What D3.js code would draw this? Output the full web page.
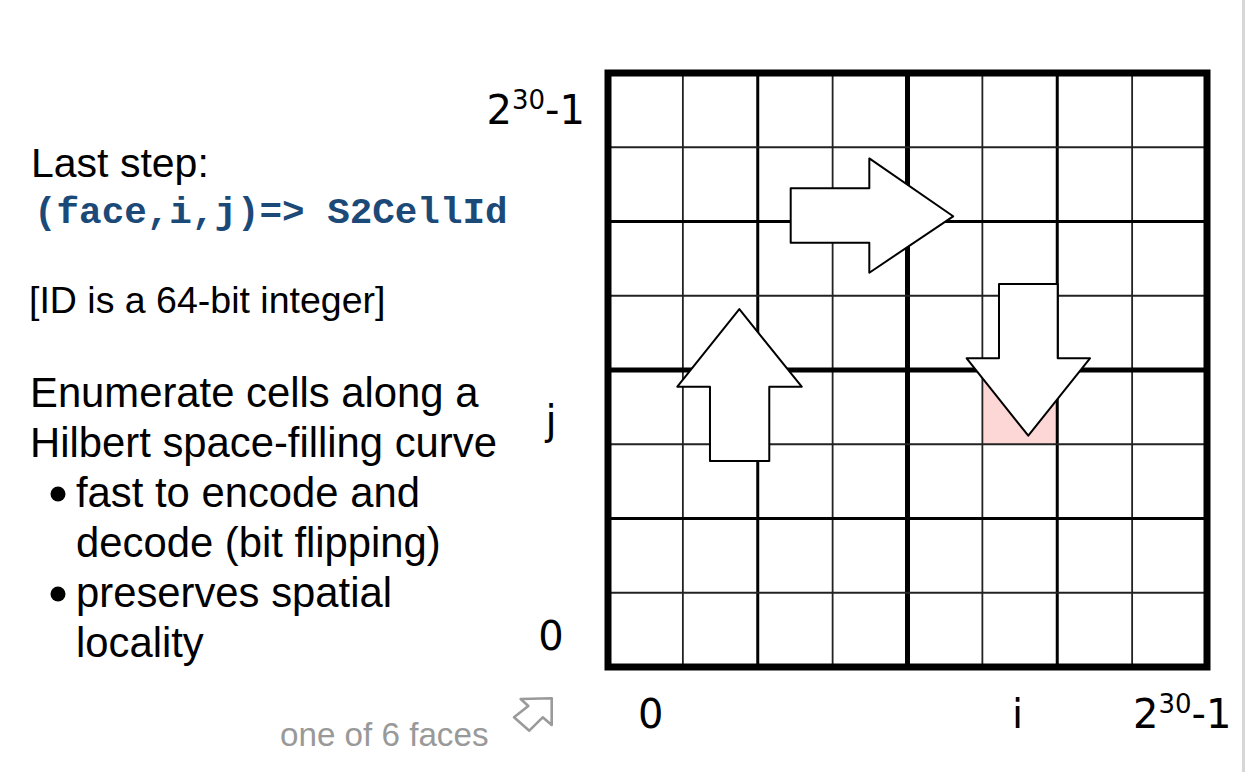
<!DOCTYPE html>
<html>
<head>
<meta charset="utf-8">
<script src="https://cdn.jsdelivr.net/npm/d3@7"></script>
<style>
  html, body { margin: 0; padding: 0; background: #fff; }
  svg { display: block; }
  .note { font-family: 'Liberation Sans', Arial, sans-serif; fill: #000; }
  .code { font-family: 'Liberation Mono', 'Courier New', monospace; font-weight: bold; fill: #1c4a78; }
  .tick { font-family: 'DejaVu Sans', Verdana, sans-serif; fill: #000; }
</style>
</head>
<body>
<svg id="chart" width="1252" height="772"></svg>
<script>
// 8x8 face grid, line index -> level (0 outer, 1 half, 2 quarter, 3 eighth)
const gridSize = 8
const lineLevels = [0, 3, 2, 3, 1, 3, 2, 3, 0]
const highlightCells = [[5, 3]]

// arrow outlines in grid units [i, j]
const arrowRight = [[2.44, 6.447], [3.49, 6.447], [3.49, 6.85], [4.61, 6.07], [3.49, 5.31], [3.49, 5.715], [2.44, 5.715]]
const arrowUp = [[1.362, 2.774], [1.362, 3.775], [0.926, 3.775], [1.754, 4.82], [2.587, 3.775], [2.154, 3.775], [2.154, 2.774]]
const arrowDown = [[5.222, 5.158], [5.222, 4.158], [4.79, 4.158], [5.613, 3.115], [6.437, 4.158], [6.006, 4.158], [6.006, 5.158]]

// axis labels: base text, superscript, tail, position in grid units
const xTicks = [
  { base: '0', sup: '', tail: '', at: 0.57 },
  { base: 'i', sup: '', tail: '', at: 5.47 },
  { base: '2', sup: '30', tail: '-1', at: 7.67 },
]
const yTicks = [
  { base: '0', sup: '', tail: '', at: 0.42 },
  { base: 'j', sup: '', tail: '', at: 3.33 },
  { base: '2', sup: '30', tail: '-1', at: 7.5 },
]

const titleLine = 'Last step:'
const codeLine = '(face,i,j)=> S2CellId'
const idLine = '[ID is a 64-bit integer]'
const curveLines = ['Enumerate cells along a', 'Hilbert space-filling curve']
const bulletItems = [['fast to encode and', 'decode (bit flipping)'], ['preserves spatial', 'locality']]
const caption = 'one of 6 faces'

const svg = d3.select('#chart')

const x = d3.scaleLinear().domain([0, gridSize]).range([608, 1207])
const y = d3.scaleLinear().domain([0, gridSize]).range([667, 73])

const levelWidth = [7, 5, 3, 1.8]
const levelColor = ['#000', '#000', '#000', '#222']

// right edge rule
svg.append('rect')
  .attr('x', 1242).attr('y', 0)
  .attr('width', 3).attr('height', 772)
  .attr('fill', '#d6d6d6')

const grid = svg.append('g').attr('class', 'grid')

grid.selectAll('.cell')
  .data(highlightCells)
  .enter()
  .append('rect')
  .attr('class', 'cell')
  .attr('x', (d) => x(d[0]))
  .attr('y', (d) => y(d[1] + 1))
  .attr('width', x(1) - x(0))
  .attr('height', y(0) - y(1))
  .attr('fill', '#fdd6d6')

// inner lines, thin first so thicker ones sit on top
const inner = d3.range(1, gridSize)
  .map((k) => ({ k, level: lineLevels[k] }))
  .sort((a, b) => b.level - a.level)

grid.selectAll('.vline')
  .data(inner)
  .enter()
  .append('line')
  .attr('class', 'vline')
  .attr('x1', (d) => x(d.k)).attr('x2', (d) => x(d.k))
  .attr('y1', y(0)).attr('y2', y(gridSize))
  .attr('stroke', (d) => levelColor[d.level])
  .attr('stroke-width', (d) => levelWidth[d.level])

grid.selectAll('.hline')
  .data(inner)
  .enter()
  .append('line')
  .attr('class', 'hline')
  .attr('y1', (d) => y(d.k)).attr('y2', (d) => y(d.k))
  .attr('x1', x(0)).attr('x2', x(gridSize))
  .attr('stroke', (d) => levelColor[d.level])
  .attr('stroke-width', (d) => levelWidth[d.level])

grid.append('rect')
  .attr('x', x(0)).attr('y', y(gridSize))
  .attr('width', x(gridSize) - x(0))
  .attr('height', y(0) - y(gridSize))
  .attr('fill', 'none')
  .attr('stroke', levelColor[0])
  .attr('stroke-width', levelWidth[0])

const arrowLine = d3.line()
  .x((d) => x(d[0]))
  .y((d) => y(d[1]))
  .curve(d3.curveLinearClosed)

svg.append('g')
  .attr('class', 'arrows')
  .selectAll('path')
  .data([arrowRight, arrowUp, arrowDown])
  .enter()
  .append('path')
  .attr('d', arrowLine)
  .attr('fill', '#fff')
  .attr('stroke', '#000')
  .attr('stroke-width', 2)
  .attr('stroke-linejoin', 'round')

function tickText(sel) {
  sel.append('tspan').text((d) => d.base)
  sel.filter((d) => d.sup)
    .append('tspan')
    .attr('font-size', 26)
    .attr('dy', -15)
    .text((d) => d.sup)
  sel.filter((d) => d.tail)
    .append('tspan')
    .attr('dy', 15)
    .text((d) => d.tail)
}

svg.append('g')
  .selectAll('text')
  .data(xTicks)
  .enter()
  .append('text')
  .attr('class', 'tick')
  .attr('x', (d) => x(d.at))
  .attr('y', 728)
  .attr('text-anchor', 'middle')
  .attr('font-size', 40)
  .call(tickText)

svg.append('g')
  .selectAll('text')
  .data(yTicks)
  .enter()
  .append('text')
  .attr('class', 'tick')
  .attr('x', (d) => d.sup ? 585 : 551)
  .attr('y', (d) => y(d.at) + 14)
  .attr('text-anchor', (d) => d.sup ? 'end' : 'middle')
  .attr('font-size', 40)
  .call(tickText)

// left side notes
const notes = svg.append('g').attr('class', 'notes')

notes.append('text')
  .attr('class', 'note')
  .attr('x', 31).attr('y', 177)
  .attr('font-size', 41)
  .text(titleLine)

notes.append('text')
  .attr('class', 'code')
  .attr('x', 34).attr('y', 223)
  .attr('font-size', 37.6)
  .text(codeLine)

notes.append('text')
  .attr('class', 'note')
  .attr('x', 29).attr('y', 313)
  .attr('font-size', 37.5)
  .text(idLine)

const lineGap = 50
notes.selectAll('.curve')
  .data(curveLines)
  .enter()
  .append('text')
  .attr('class', 'note curve')
  .attr('x', 30)
  .attr('y', (d, i) => 407 + i * lineGap)
  .attr('font-size', 41.8)
  .text((d) => d)

bulletItems.forEach((lines, b) => {
  const top = 407 + (2 + b * 2) * lineGap
  notes.append('circle')
    .attr('cx', 58).attr('cy', top - 13)
    .attr('r', 7.5)
    .attr('fill', '#000')
  notes.selectAll(null)
    .data(lines)
    .enter()
    .append('text')
    .attr('class', 'note')
    .attr('x', 76)
    .attr('y', (d, i) => top + i * lineGap)
    .attr('font-size', 41.8)
    .text((d) => d)
})

notes.append('text')
  .attr('class', 'note')
  .attr('x', 280).attr('y', 746)
  .attr('font-size', 33.2)
  .style('fill', '#999')
  .text(caption)

// small "expand" icon
svg.append('path')
  .attr('d', 'M520.7,699 L551.7,698.3 L551.7,725 L542.7,717.3 L529.3,730.7 L514,717.3 L528.3,706 Z')
  .attr('fill', 'none')
  .attr('stroke', '#9a9a9a')
  .attr('stroke-width', 2.6)
  .attr('stroke-linejoin', 'round')
</script>
</body>
</html>
